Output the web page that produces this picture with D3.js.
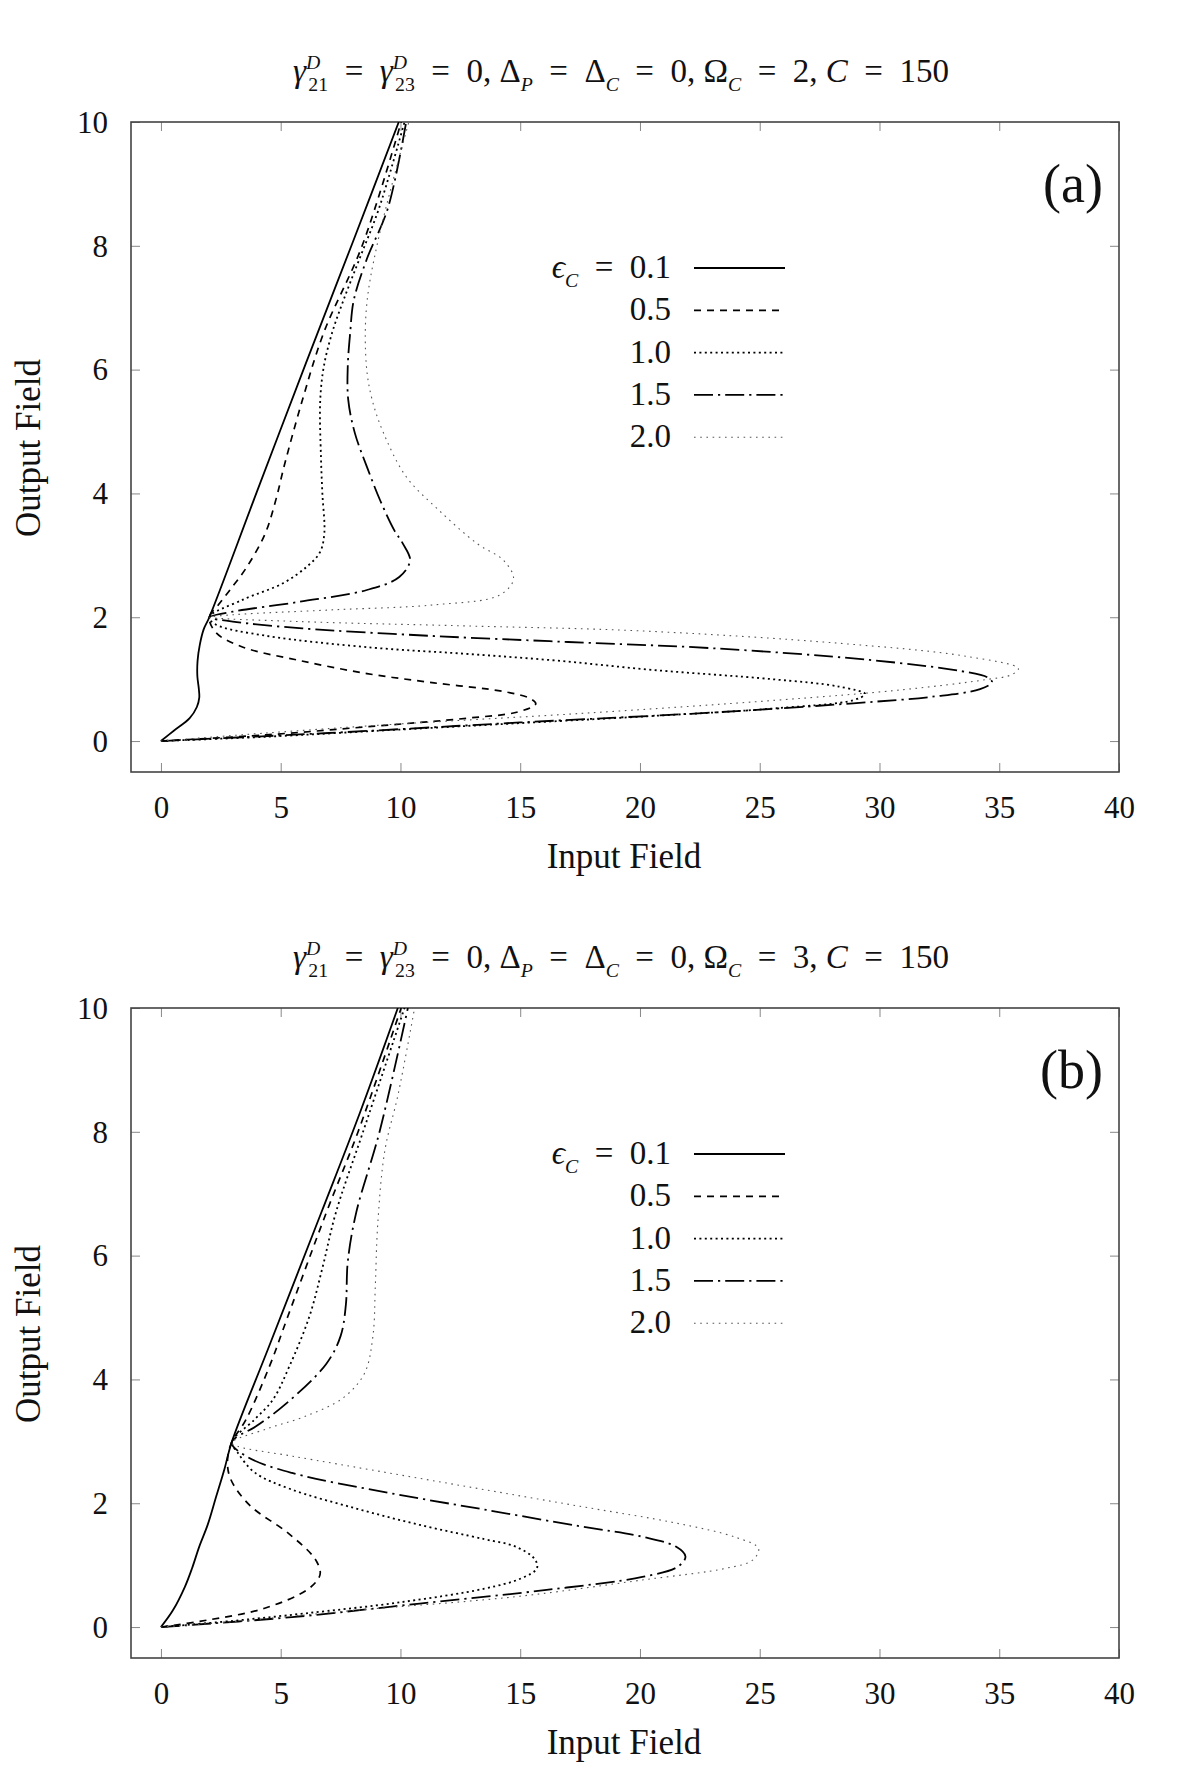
<!DOCTYPE html>
<html>
<head>
<meta charset="utf-8">
<script src="https://cdn.jsdelivr.net/npm/d3@7"></script>
<style>
  body { margin: 0; background: #fff; }
  svg text { font-family: "Liberation Serif", "DejaVu Serif", serif; fill: #111; white-space: pre; }
</style>
</head>
<body>
<svg id="fig" width="1182" height="1772"></svg>
<script>
// axis ticks and labels
const xTicks = [0, 5, 10, 15, 20, 25, 30, 35, 40];
const yTicks = [0, 2, 4, 6, 8, 10];
const epsLabels = ["0.1", "0.5", "1.0", "1.5", "2.0"];
const omegaC = [2, 3];
const panelTags = ["(a)", "(b)"];

// panel (a), Omega_C = 2 : [input field, output field]
const a01 = [[0,0],[0.55,0.17],[1.2,0.37],[1.5,0.55],[1.6,0.7],[1.58,0.85],[1.52,1.05],[1.53,1.3],[1.62,1.55],[1.78,1.8],[2.02,2.0],[4.0,4.02],[6.05,6.1],[8.0,8.05],[9.93,10]];
const a05 = [[0,0],[4.4,0.1],[8.6,0.23],[12.8,0.37],[14.9,0.47],[15.65,0.6],[15.4,0.69],[14.3,0.8],[11.4,0.94],[8.6,1.09],[5.8,1.3],[3.4,1.52],[2.3,1.75],[2.02,2.0],[2.4,2.2],[2.9,2.45],[3.6,2.82],[4.35,3.35],[4.8,3.9],[5.15,4.45],[5.9,5.5],[6.8,6.6],[8.4,8.0],[10.03,10]];
const a10 = [[0,0],[4.4,0.07],[9.7,0.18],[15,0.29],[20.3,0.4],[25.7,0.53],[28.9,0.66],[29.4,0.76],[28.3,0.88],[25.5,1.0],[20.5,1.15],[16.5,1.3],[12.7,1.41],[8.8,1.51],[4.4,1.7],[2.3,1.88],[2.02,2.0],[3.4,2.28],[5.1,2.55],[6.1,2.82],[6.64,3.05],[6.82,3.35],[6.74,4.0],[6.68,4.6],[6.65,5.5],[6.8,6.05],[7.15,6.6],[7.62,7.12],[8.3,7.8],[9.1,8.6],[10.17,10]];
const a15 = [[0,0],[7,0.13],[15,0.3],[23,0.46],[28.9,0.61],[32.3,0.72],[34.2,0.84],[34.7,0.95],[34.5,1.03],[33.4,1.13],[29.6,1.31],[23,1.5],[17,1.6],[11.2,1.7],[5.9,1.82],[3.0,1.93],[2.02,2.0],[3.0,2.09],[5.8,2.25],[8.6,2.44],[9.95,2.65],[10.4,2.92],[10.1,3.19],[9.75,3.4],[9.15,3.89],[8.6,4.43],[8.1,4.97],[7.82,5.51],[7.8,6.05],[7.9,6.59],[8.05,7.12],[8.6,7.79],[9.47,8.6],[10.24,10]];
const a20 = [[0,0],[4.4,0.13],[9.7,0.27],[17.7,0.45],[25.7,0.66],[31,0.83],[34.4,0.99],[35.5,1.07],[35.8,1.17],[33.6,1.37],[28.3,1.58],[20,1.78],[12.7,1.86],[5.8,1.93],[2.02,2.0],[3.0,2.04],[7.2,2.12],[11.4,2.2],[14.15,2.36],[14.72,2.62],[14.3,2.92],[13.2,3.19],[11.6,3.73],[10.24,4.27],[9.3,4.97],[8.82,5.51],[8.58,6.05],[8.58,7.0],[9.05,8.06],[10.35,10]];

// panel (b), Omega_C = 3
const b01 = [[0,0],[0.5,0.27],[1.0,0.65],[1.3,0.95],[1.6,1.3],[1.95,1.65],[2.3,2.1],[2.65,2.55],[2.95,2.98],[4.5,4.52],[6.7,6.7],[8.3,8.3],[9.89,10]];
const b05 = [[0,0],[1.9,0.11],[4.3,0.3],[6.1,0.6],[6.6,0.8],[6.65,0.9],[6.4,1.12],[5.3,1.52],[3.7,1.97],[2.9,2.4],[2.78,2.7],[2.95,2.98],[3.55,3.35],[4.53,4.21],[5.3,5.02],[6.9,6.69],[8.22,7.99],[10.03,10]];
const b10 = [[0,0],[3,0.1],[6,0.22],[10,0.4],[13.5,0.62],[15,0.78],[15.7,0.95],[15.6,1.1],[14.8,1.3],[13.5,1.42],[10.8,1.65],[8.1,1.92],[5.4,2.23],[3.9,2.5],[3.2,2.82],[2.95,2.98],[3.9,3.35],[4.67,3.67],[5.36,4.21],[6.2,5.02],[6.76,5.83],[7.3,6.69],[8.43,7.99],[10.17,10]];
const b15 = [[0,0],[5.47,0.16],[10.8,0.38],[16.1,0.6],[20.1,0.81],[21.6,0.98],[21.9,1.14],[21.5,1.3],[20.1,1.46],[17.47,1.63],[13.47,1.9],[9.47,2.17],[5.47,2.49],[3.65,2.74],[2.95,2.98],[4.0,3.25],[5.2,3.6],[6.9,4.25],[7.5,4.7],[7.72,5.2],[7.8,5.9],[8.15,6.69],[9.12,7.99],[10.31,10]];
const b20 = [[0,0],[2.8,0.08],[8.1,0.27],[14.8,0.49],[20.1,0.76],[23.6,0.95],[24.7,1.08],[24.95,1.27],[24,1.45],[21.5,1.68],[17.5,1.95],[13.5,2.22],[9.5,2.49],[5.5,2.76],[3.2,2.92],[2.95,2.98],[4.4,3.2],[6.0,3.4],[7.6,3.7],[8.5,4.1],[8.85,4.7],[8.95,5.5],[9.05,6.5],[9.35,7.7],[9.9,8.6],[10.59,10]];

const panelSeries = [[a01, a05, a10, a15, a20], [b01, b05, b10, b15, b20]];

// line looks, one per epsilon_C
const looks = [
  { dash: null,          width: 1.8, color: "#000" },
  { dash: "7,6",         width: 1.7, color: "#000" },
  { dash: "2,3.4",       width: 1.8, color: "#000" },
  { dash: "19,5,2.2,5",  width: 1.8, color: "#000" },
  { dash: "1.6,4.6",     width: 1.1, color: "#555" }
];

const serif = '"Liberation Serif", "DejaVu Serif", serif';
const svg = d3.select("#fig");
const left = 131, right = 1119, plotH = 650;
const panelTops = [122, 1008];
const eq = "\u2002=\u2002";

const x = d3.scaleLinear().domain([-1.25, 40]).range([left, right]);

function mathLine(g, px, py, parts, size, anchor) {
  const t = g.append("text")
    .attr("x", px).attr("y", py)
    .attr("font-size", size)
    .attr("font-family", serif)
    .attr("text-anchor", anchor)
    .attr("xml:space", "preserve");
  let shift = 0;
  parts.forEach(p => {
    const target = p.sup ? -0.4 * size : p.sub ? 0.27 * size : 0;
    const s = t.append("tspan").text(p.t).attr("dy", target - shift);
    shift = target;
    if (p.sup || p.sub) s.attr("font-size", size * 0.6);
    if (p.it) s.attr("font-style", "italic");
    if (p.dx) s.attr("dx", p.dx);
  });
  return t;
}

panelTops.forEach((top, pi) => {
  const y = d3.scaleLinear().domain([-0.5, 10]).range([top + plotH, top]);
  const g = svg.append("g").attr("font-family", serif);

  const clipId = "clip" + pi;
  g.append("clipPath").attr("id", clipId)
    .append("rect").attr("x", left).attr("y", top).attr("width", right - left).attr("height", plotH);

  // inward ticks on all four sides
  const axB = g.append("g").attr("transform", `translate(0,${top + plotH})`)
    .call(d3.axisBottom(x).tickValues(xTicks).tickSizeInner(-9).tickSizeOuter(0));
  axB.selectAll("text").attr("y", 46).attr("dy", null);
  const axT = g.append("g").attr("transform", `translate(0,${top})`)
    .call(d3.axisTop(x).tickValues(xTicks).tickSizeInner(-9).tickSizeOuter(0).tickFormat(""));
  const axL = g.append("g").attr("transform", `translate(${left},0)`)
    .call(d3.axisLeft(y).tickValues(yTicks).tickSizeInner(-9).tickSizeOuter(0).tickPadding(23));
  axL.selectAll("text").attr("dy", "0.33em");
  const axR = g.append("g").attr("transform", `translate(${right},0)`)
    .call(d3.axisRight(y).tickValues(yTicks).tickSizeInner(-9).tickSizeOuter(0).tickFormat(""));
  [axB, axT, axL, axR].forEach(a => {
    a.attr("font-family", serif).attr("font-size", 31);
    a.select(".domain").remove();
    a.selectAll("line").attr("stroke", "#888").attr("stroke-width", 1);
    a.selectAll("text").attr("fill", "#111");
  });

  g.append("rect")
    .attr("x", left).attr("y", top).attr("width", right - left).attr("height", plotH)
    .attr("fill", "none").attr("stroke", "#444").attr("stroke-width", 1.6);

  // curves
  const line = d3.line()
    .x(d => x(d[0])).y(d => y(d[1]))
    .curve(d3.curveCatmullRom.alpha(0.5));
  const curves = g.append("g").attr("clip-path", `url(#${clipId})`);
  panelSeries[pi].forEach((pts, i) => {
    curves.append("path")
      .attr("d", line(pts))
      .attr("fill", "none")
      .attr("stroke", looks[i].color)
      .attr("stroke-width", looks[i].width)
      .attr("stroke-dasharray", looks[i].dash)
      .attr("stroke-linejoin", "round");
  });

  // legend
  epsLabels.forEach((lab, i) => {
    const by = top + 156 + i * 42.3;
    if (i === 0) {
      mathLine(g, 671, by, [{ t: "\u03F5", it: true }, { t: "C", it: true, sub: true }, { t: eq + lab }], 33, "end");
    } else {
      g.append("text").attr("x", 671).attr("y", by).attr("font-size", 33)
        .attr("text-anchor", "end").text(lab);
    }
    g.append("line")
      .attr("x1", 694).attr("x2", 785).attr("y1", by - 10).attr("y2", by - 10)
      .attr("stroke", looks[i].color)
      .attr("stroke-width", looks[i].width)
      .attr("stroke-dasharray", looks[i].dash);
  });

  // panel tag
  g.append("text").attr("x", 1103).attr("y", top + 80)
    .attr("font-size", 54).attr("text-anchor", "end").text(panelTags[pi]);

  // title
  mathLine(g, 621, top - 40, [
    { t: "\u03B3", it: true }, { t: "D", it: true, sup: true }, { t: "21", sub: true, dx: -12 },
    { t: eq }, { t: "\u03B3", it: true }, { t: "D", it: true, sup: true }, { t: "23", sub: true, dx: -12 },
    { t: eq + "0, \u0394" }, { t: "P", it: true, sub: true },
    { t: eq + "\u0394" }, { t: "C", it: true, sub: true },
    { t: eq + "0, \u03A9" }, { t: "C", it: true, sub: true },
    { t: eq + omegaC[pi] + ", " }, { t: "C", it: true }, { t: eq + "150" }
  ], 33, "middle");

  // axis titles
  g.append("text").attr("x", 624).attr("y", top + 746)
    .attr("font-size", 35).attr("text-anchor", "middle").text("Input Field");
  g.append("text")
    .attr("transform", `translate(40,${top + 326}) rotate(-90)`)
    .attr("font-size", 35).attr("text-anchor", "middle").text("Output Field");
});
</script>
</body>
</html>
